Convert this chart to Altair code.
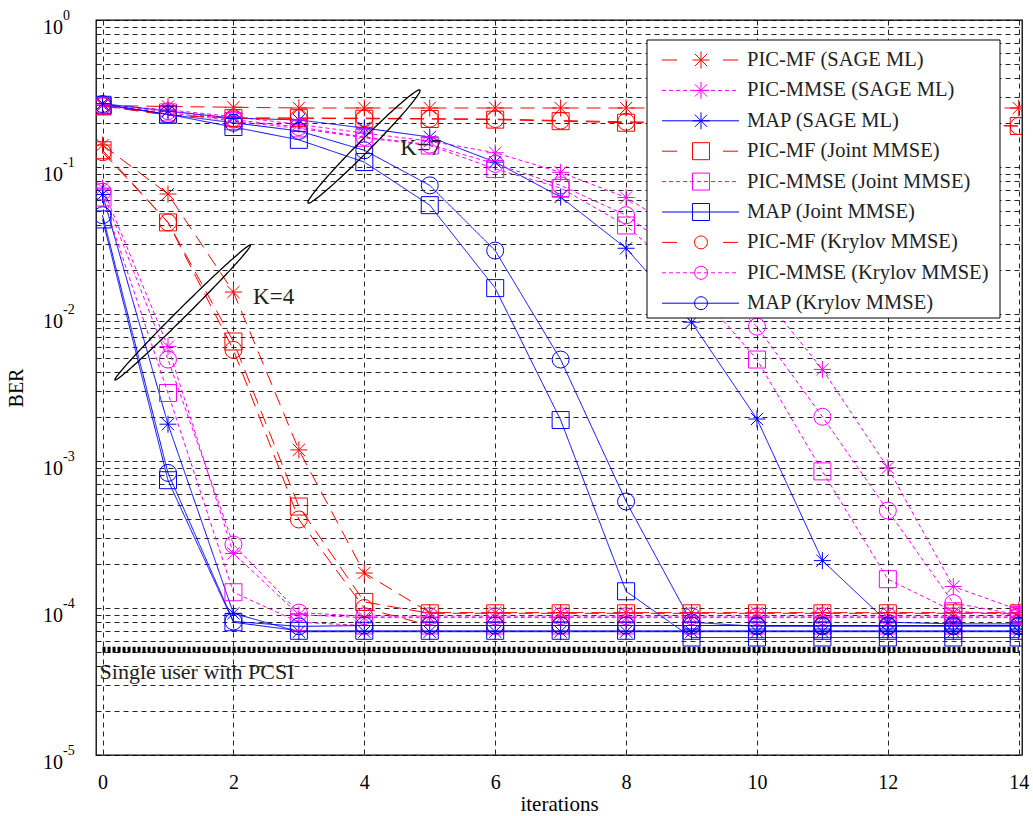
import altair as alt
import pandas as pd
import numpy as np

iterations = list(range(15))

# ---------------- K = 4 ----------------
pic_mf_sage_k4 = [0.141, 0.0655, 0.0141, 1.19e-3, 1.73e-4, 9.3e-5, 9.3e-5, 9.3e-5, 9.3e-5, 9.3e-5, 9.3e-5, 9.3e-5, 9.3e-5, 9.3e-5, 9.3e-5]
pic_mmse_sage_k4 = [0.072, 6.0e-3, 2.35e-4, 9.0e-5, 8.6e-5, 8.6e-5, 8.6e-5, 8.6e-5, 8.6e-5, 8.6e-5, 8.6e-5, 8.6e-5, 8.6e-5, 8.6e-5, 8.6e-5]
map_sage_k4 = [0.065, 1.78e-3, 9.2e-5, 6.9e-5, 6.9e-5, 6.9e-5, 6.9e-5, 6.9e-5, 6.9e-5, 6.9e-5, 6.9e-5, 6.9e-5, 6.9e-5, 6.9e-5, 6.9e-5]
pic_mf_joint_k4 = [0.130, 0.042, 6.5e-3, 4.9e-4, 1.1e-4, 9.2e-5, 9.2e-5, 9.2e-5, 9.2e-5, 9.2e-5, 9.2e-5, 9.2e-5, 9.2e-5, 9.2e-5, 9.2e-5]
pic_mmse_joint_k4 = [0.062, 2.9e-3, 1.28e-4, 8.0e-5, 7.6e-5, 7.6e-5, 7.6e-5, 7.6e-5, 7.6e-5, 7.6e-5, 7.6e-5, 7.6e-5, 7.6e-5, 7.6e-5, 7.6e-5]
map_joint_k4 = [0.044, 7.4e-4, 8.0e-5, 7.0e-5, 7.0e-5, 7.0e-5, 7.0e-5, 7.0e-5, 7.0e-5, 7.0e-5, 7.0e-5, 7.0e-5, 7.0e-5, 7.0e-5, 7.0e-5]
pic_mf_krylov_k4 = [0.126, 0.042, 5.7e-3, 4.0e-4, 1.0e-4, 7.6e-5, 7.6e-5, 7.6e-5, 7.6e-5, 7.6e-5, 7.6e-5, 7.6e-5, 7.6e-5, 7.6e-5, 7.6e-5]
pic_mmse_krylov_k4 = [0.068, 4.9e-3, 2.7e-4, 9.3e-5, 8.8e-5, 8.8e-5, 8.8e-5, 8.8e-5, 8.8e-5, 8.8e-5, 8.8e-5, 8.8e-5, 8.8e-5, 8.8e-5, 8.8e-5]
map_krylov_k4 = [0.047, 8.3e-4, 8.1e-5, 7.5e-5, 7.6e-5, 7.6e-5, 7.6e-5, 7.6e-5, 7.6e-5, 7.6e-5, 7.6e-5, 7.6e-5, 7.6e-5, 7.6e-5, 7.6e-5]

# ---------------- K = 7 ----------------
pic_mf_sage_k7 = [0.262, 0.258, 0.255, 0.252, 0.252, 0.252, 0.252, 0.252, 0.252, 0.252, 0.252, 0.252, 0.252, 0.252, 0.252]
pic_mmse_sage_k7 = [0.265, 0.245, 0.22, 0.195, 0.17, 0.15, 0.125, 0.092, 0.062, 0.033, 0.015, 4.2e-3, 9.0e-4, 1.4e-4, 9.7e-5]
map_sage_k7 = [0.27, 0.24, 0.215, 0.209, 0.184, 0.16, 0.108, 0.0625, 0.028, 8.8e-3, 1.93e-3, 2.1e-4, 8.0e-5, 7.8e-5, 7.8e-5]
pic_mf_joint_k7 = [0.26, 0.226, 0.215, 0.215, 0.213, 0.212, 0.21, 0.205, 0.2, 0.2, 0.2, 0.198, 0.196, 0.194, 0.19]
pic_mmse_joint_k7 = [0.258, 0.235, 0.205, 0.183, 0.158, 0.14, 0.097, 0.072, 0.040, 0.016, 4.9e-3, 8.5e-4, 1.57e-4, 9.5e-5, 9.0e-5]
map_joint_k7 = [0.265, 0.228, 0.187, 0.153, 0.108, 0.055, 0.015, 1.9e-3, 1.3e-4, 6.3e-5, 6.3e-5, 6.3e-5, 6.3e-5, 6.3e-5, 6.3e-5]
pic_mf_krylov_k7 = [0.26, 0.226, 0.215, 0.215, 0.215, 0.213, 0.212, 0.207, 0.203, 0.2, 0.2, 0.198, 0.196, 0.194, 0.19]
pic_mmse_krylov_k7 = [0.262, 0.24, 0.21, 0.187, 0.16, 0.142, 0.105, 0.075, 0.047, 0.022, 8.2e-3, 2.0e-3, 4.6e-4, 1.08e-4, 9.0e-5]
map_krylov_k7 = [0.268, 0.228, 0.2, 0.176, 0.13, 0.075, 0.027, 4.9e-3, 5.3e-4, 8.0e-5, 7.5e-5, 7.5e-5, 7.5e-5, 7.5e-5, 7.5e-5]

series_names = ["PIC-MF (SAGE ML)", "PIC-MMSE (SAGE ML)", "MAP (SAGE ML)",
                "PIC-MF (Joint MMSE)", "PIC-MMSE (Joint MMSE)", "MAP (Joint MMSE)",
                "PIC-MF (Krylov MMSE)", "PIC-MMSE (Krylov MMSE)", "MAP (Krylov MMSE)"]
k4_values = [pic_mf_sage_k4, pic_mmse_sage_k4, map_sage_k4, pic_mf_joint_k4, pic_mmse_joint_k4,
             map_joint_k4, pic_mf_krylov_k4, pic_mmse_krylov_k4, map_krylov_k4]
k7_values = [pic_mf_sage_k7, pic_mmse_sage_k7, map_sage_k7, pic_mf_joint_k7, pic_mmse_joint_k7,
             map_joint_k7, pic_mf_krylov_k7, pic_mmse_krylov_k7, map_krylov_k7]

pcsi_x = [0, 14]
pcsi_ber = [5.2e-5, 5.2e-5]

decade_vals = [1, 1e-1, 1e-2, 1e-3, 1e-4, 1e-5]
decade_exps = ["0", "-1", "-2", "-3", "-4", "-5"]
x_ticks = [0, 2, 4, 6, 8, 10, 12, 14]

# annotation ellipses: tips in data coordinates
ell_k4_x = [0.19, 2.26]
ell_k4_ber = [3.56e-3, 2.94e-2]
ell_k7_x = [3.14, 4.85]
ell_k7_ber = [5.69e-2, 0.334]

# ---------------- styles ----------------
RED, MAG, BLUE = "#ff0000", "#ff00ff", "#0000ff"
colors = [RED, MAG, BLUE] * 3
dashes = [[14, 8], [4, 3], [1, 0]] * 3
ASTER = "M-1,0L1,0M0,-1L0,1M-0.72,-0.72L0.72,0.72M-0.72,0.72L0.72,-0.72"
shapes = [ASTER] * 3 + ["square"] * 3 + ["circle"] * 3
sizes = [289] * 6 + [169] * 3
FONT = "Liberation Serif"

W, H = 926, 735
XMIN, XMAX = -0.1, 14.05

rows = []
for name, v4, v7 in zip(series_names, k4_values, k7_values):
    for k, vals in (("4", v4), ("7", v7)):
        for it, b in zip(iterations, vals):
            rows.append({"series": name, "grp": name + k, "it": it, "ber": b})
df = pd.DataFrame(rows)

xscale = alt.Scale(domain=[XMIN, XMAX], nice=False, zero=False)
yscale = alt.Scale(type="log", domain=[1e-5, 1], nice=False)
grid_vals = [m * 10.0 ** k for k in range(-5, 0) for m in range(1, 10)] + [1.0]

xaxis = alt.Axis(values=x_ticks, grid=True, gridDash=[5, 4], gridColor="#000000", gridOpacity=0.85,
                 ticks=False, domain=False, labelFont=FONT, labelFontSize=20, labelColor="black",
                 labelPadding=17, title="iterations", titleFont=FONT, titleFontSize=21,
                 titleFontWeight="normal", titleColor="black", titlePadding=1)
yaxis = alt.Axis(values=grid_vals, grid=True, gridDash=[5, 4], gridColor="#000000", gridOpacity=0.85,
                 labels=False, ticks=False, domain=False, title="BER", titleFont=FONT,
                 titleFontSize=20, titleFontWeight="normal", titleColor="black",
                 titleX=-80, titleY=H / 2, titleAngle=270, titleAlign="center", titleBaseline="middle")


def X(field):
    return alt.X(f"{field}:Q", scale=xscale, axis=xaxis)


def Y(field):
    return alt.Y(f"{field}:Q", scale=yscale, axis=yaxis)


color_enc = alt.Color("series:N", scale=alt.Scale(domain=series_names, range=colors), legend=None)

lines = alt.Chart(df).mark_line(strokeWidth=1, clip=True).encode(
    x=X("it"), y=Y("ber"), color=color_enc,
    strokeDash=alt.StrokeDash("series:N", scale=alt.Scale(domain=series_names, range=dashes), legend=None),
    detail="grp:N")

points = alt.Chart(df).mark_point(filled=False, strokeWidth=1, clip=True, opacity=1).encode(
    x=X("it"), y=Y("ber"), color=color_enc,
    shape=alt.Shape("series:N", scale=alt.Scale(domain=series_names, range=shapes), legend=None),
    size=alt.Size("series:N", scale=alt.Scale(domain=series_names, range=sizes), legend=None),
    detail="grp:N")

pcsi_df = pd.DataFrame({"it": pcsi_x, "ber": pcsi_ber})
pcsi = alt.Chart(pcsi_df).mark_line(color="black", strokeWidth=6, strokeDash=[3, 2], strokeCap="butt").encode(
    x=X("it"), y=Y("ber"))
pcsi_text = alt.Chart(pcsi_df.iloc[[0]]).mark_text(
    text="Single user with PCSI", align="left", baseline="middle", font=FONT, fontSize=22,
    dx=-3, dy=22, color="#222222").encode(x=X("it"), y=Y("ber"))

# ellipses
PX_X = W / (XMAX - XMIN)
PX_DEC = H / 5.0


def ellipse(xs, bers, half_w, k):
    ax, ay = xs[0] * PX_X, -np.log10(bers[0]) * PX_DEC
    bx, by = xs[1] * PX_X, -np.log10(bers[1]) * PX_DEC
    cx, cy = (ax + bx) / 2, (ay + by) / 2
    a = np.hypot(bx - ax, by - ay) / 2
    ux, uy = (bx - ax) / (2 * a), (by - ay) / (2 * a)
    vx, vy = -uy, ux
    t = np.linspace(0, 2 * np.pi, 181)
    px = cx + a * np.cos(t) * ux + half_w * np.sin(t) * vx
    py = cy + a * np.cos(t) * uy + half_w * np.sin(t) * vy
    return pd.DataFrame({"it": px / PX_X, "ber": 10 ** (-py / PX_DEC), "i": np.arange(len(t)), "k": k})


ell_df = pd.concat([ellipse(ell_k4_x, ell_k4_ber, 4.5, "4"), ellipse(ell_k7_x, ell_k7_ber, 6.0, "7")])
ellipses = alt.Chart(ell_df).mark_line(color="black", strokeWidth=1.3).encode(
    x=X("it"), y=Y("ber"), order="i:Q", detail="k:N")

klabels = pd.DataFrame({"it": [2.3, 4.55], "ber": [0.0131, 0.135], "t": ["K=4", "K=7"]})
ktext = alt.Chart(klabels).mark_text(align="left", baseline="middle", font=FONT, fontSize=23,
                                     color="#222222").encode(x=X("it"), y=Y("ber"), text="t:N")

# y tick labels as 10^k
dec_df = pd.DataFrame({"ber": decade_vals, "e": decade_exps})
ten = alt.Chart(dec_df).mark_text(text="10", align="right", baseline="middle", font=FONT, fontSize=20,
                                  dy=8, color="black").encode(x=alt.value(-33), y=Y("ber"))
expo = alt.Chart(dec_df).mark_text(align="left", baseline="middle", font=FONT, fontSize=14,
                                   dy=-4, color="black").encode(x=alt.value(-33), y=Y("ber"), text="e:N")

# manual legend
one = pd.DataFrame({"d": [0]})
leg_layers = [alt.Chart(one).mark_rect(fill="white", stroke="black", strokeWidth=1).encode(
    x=alt.value(551), x2=alt.value(904), y=alt.value(20), y2=alt.value(298))]
for i, name in enumerate(series_names):
    yv = 40 + i * 30.4
    c = colors[i]
    kind = i % 3
    if kind == 0:
        rule = alt.Chart(one).mark_rule(color=c, strokeWidth=1, strokeDash=[15, 46])
    elif kind == 1:
        rule = alt.Chart(one).mark_rule(color=c, strokeWidth=1, strokeDash=[4, 3])
    else:
        rule = alt.Chart(one).mark_rule(color=c, strokeWidth=1)
    leg_layers.append(rule.encode(x=alt.value(566), x2=alt.value(643), y=alt.value(yv)))
    leg_layers.append(alt.Chart(one).mark_point(shape=shapes[i], size=sizes[i], filled=False, color=c,
                                                strokeWidth=1, opacity=1).encode(
        x=alt.value(605), y=alt.value(yv)))
    leg_layers.append(alt.Chart(one).mark_text(text=name, align="left", baseline="middle", font=FONT,
                                               fontSize=20.5, color="#222222").encode(
        x=alt.value(651), y=alt.value(yv)))

chart = alt.layer(lines, points, pcsi, pcsi_text, ellipses, ktext, ten, expo, *leg_layers).properties(
    width=W, height=H, padding={"left": 96, "top": 20, "right": 11, "bottom": 61},
    autosize=alt.AutoSizeParams(type="none"), background="white"
).configure_view(stroke="black", strokeWidth=1.3)

chart.save("out.html", embed_options={"renderer": "svg", "actions": False})
